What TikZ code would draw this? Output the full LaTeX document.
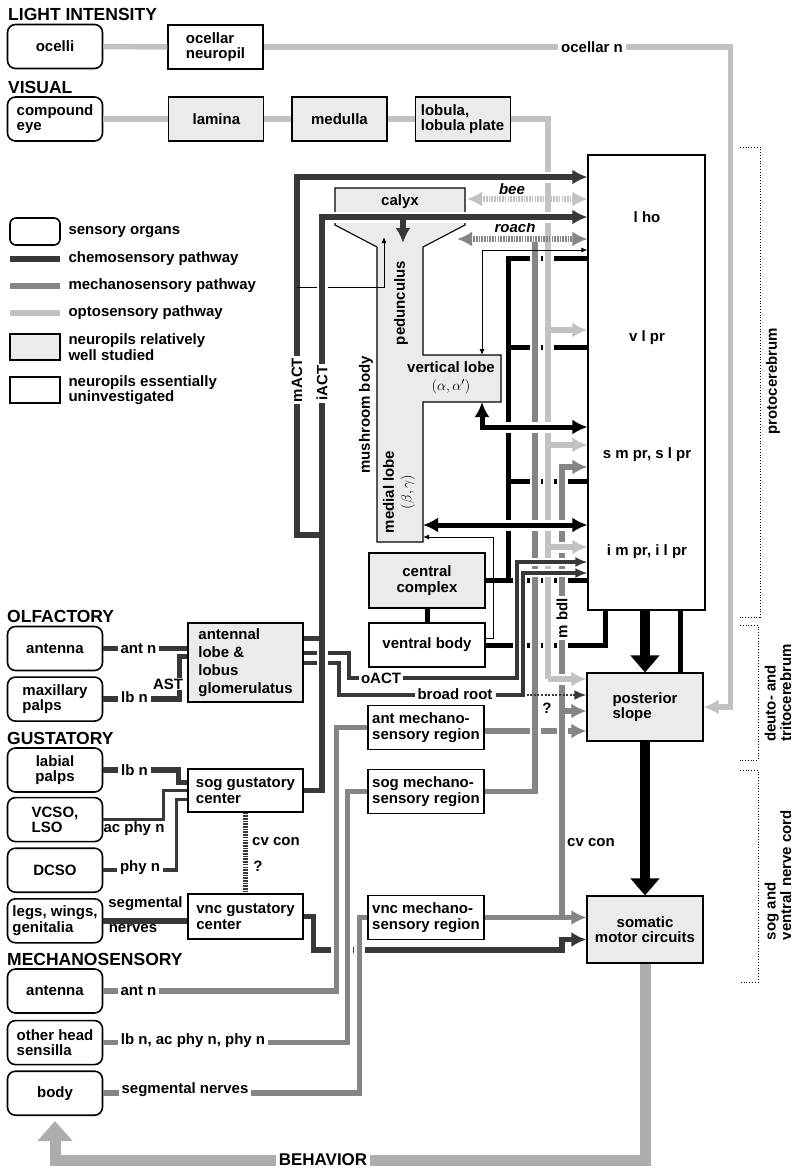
\documentclass[tikz,border=0pt]{standalone}
\usepackage{fontspec}
\setmainfont{Liberation Sans}
\usetikzlibrary{positioning, calc, arrows.meta}

\definecolor{chemc}{gray}{0.22}
\definecolor{mechc}{gray}{0.52}
\definecolor{optoc}{gray}{0.76}
\definecolor{wellc}{gray}{0.92}
\definecolor{behavc}{gray}{0.68}

\begin{document}
\begin{tikzpicture}[
  x=1pt, y=-1pt,
  font=\fontsize{15}{15.5}\selectfont\bfseries,
  >=Latex,
  organ/.style={rectangle, draw, rounded corners=8pt, line width=1.6pt, minimum width=95pt, minimum height=44pt, align=left, inner sep=2pt},
  npil/.style={rectangle, draw, line width=1.1pt, minimum width=95pt, minimum height=44pt, align=left, inner sep=2pt, fill=white},
  well/.style={fill=wellc},
  head/.style={anchor=west, inner sep=0pt, font=\fontsize{17.5}{18}\selectfont\bfseries},
  lbl/.style={fill=white, inner sep=3pt},
  chem/.style={draw=chemc, line width=5.5pt},
  mech/.style={draw=mechc, line width=5.5pt},
  opto/.style={draw=optoc, line width=5.5pt},
  blk/.style={draw=black, line width=5pt},
  thinln/.style={draw=black, line width=1pt},
  arr/.style={-{Latex[length=15pt,width=15pt]}},
  sarr/.style={-{Latex[length=12pt,width=10pt]}},
  dblarr/.style={{Latex[length=15pt,width=15pt]}-{Latex[length=15pt,width=15pt]}},
  tinyarr/.style={-{Latex[length=6pt,width=5pt]}},
  tinydbl/.style={{Latex[length=6pt,width=5pt]}-{Latex[length=6pt,width=5pt]}},
  bigarr/.style={draw=black, line width=10pt, -{Triangle[length=17pt,width=28pt]}},
  hatch/.style={dash pattern=on 1.6pt off 1.1pt},
  halo/.style={preaction={draw=white, -, line width=#1, shorten <=4pt, shorten >=4pt}},
  halo/.default=11pt,
  haloa/.style={preaction={draw=white, -, line width=#1, shorten <=4pt, shorten >=12pt}},
  haloa/.default=11pt,
  brk/.style={draw=black, line width=0.8pt, dotted}
]
\useasboundingbox (0,0) rectangle (800,1171);

%------------------------------------------------
% Headings and sensory organs
%------------------------------------------------
\node[head] (hLight) at (8,14) {LIGHT INTENSITY};
\node[head] (hVisual) at (8,87) {VISUAL};
\node[head] (hOlf) at (7,616) {OLFACTORY};
\node[head] (hGust) at (7,738) {GUSTATORY};
\node[head] (hMech) at (7,959) {MECHANOSENSORY};

\node[organ, align=center] (ocelli) at (55,46.5) {ocelli};
\node[organ] (ceye) at (55,119) {compound\\eye};

\node[organ, align=center] (oant) at (55,648.5) {antenna};
\node[organ, below=5pt of oant] (mpalp) {maxillary\\palps};

\node[organ, align=center] (lpalp) at (55,770) {labial\\palps};
\node[organ, below=4pt of lpalp] (vcso) {VCSO,\\LSO};
\node[organ, align=center, below=5pt of vcso] (dcso) {DCSO};
\node[organ, below=5pt of dcso] (legs) {legs, wings,\\genitalia};

\node[organ, align=center] (mant) at (55,991) {antenna};
\node[organ, below=6pt of mant] (ohs) {other head\\sensilla};
\node[organ, align=center, below=5pt of ohs] (mbody) {body};

%------------------------------------------------
% Neuropils
%------------------------------------------------
\node[npil] (ocn) at (215.5,47) {ocellar\\neuropil};
\node[npil, well, right=65pt of ceye] (lamina) {lamina};
\node[npil, well, right=27pt of lamina] (medulla) {medulla};
\node[npil, well, right=27pt of medulla] (lob) {lobula,\\lobula plate};

\node[npil, minimum width=117pt, minimum height=455pt] (bigbox) at (646.5,382.5) {};
\node (lho) at (647,217) {l ho};
\node (vlpr) at (647,338) {v l pr};
\node (smpr) at (647,455) {s m pr, s l pr};
\node (impr) at (647,552) {i m pr, i l pr};

\node[npil, well, minimum width=115pt, minimum height=79pt, font=\fontsize{15}{18}\selectfont\bfseries] (alobe) at (245.5,662.5) {antennal\\lobe \&\\lobus\\glomerulatus};
\node[npil, minimum width=115pt, minimum height=43pt] (sogg) at (245.5,790.5) {sog gustatory\\center};
\node[npil, minimum width=115pt, minimum height=45pt] (vncg) at (245.5,916.5) {vnc gustatory\\center};

\node[npil, minimum width=116pt] (antm) at (426,727.5) {ant mechano-\\sensory region};
\node[npil, minimum width=116pt] (sogm) at (426,791.5) {sog mechano-\\sensory region};
\node[npil, minimum width=116pt] (vncm) at (426,917.5) {vnc mechano-\\sensory region};

\node[npil, well, minimum width=116pt, minimum height=55pt, align=center] (cc) at (427,580.5) {central\\complex};
\node[npil, minimum width=116pt] (vb) at (427,645) {ventral body};

\node[npil, well, minimum width=116pt, minimum height=68pt] (ps) at (645,707) {posterior\\slope};
\node[npil, well, minimum width=116pt, minimum height=67pt, align=center] (smc) at (645,929.5) {somatic\\motor circuits};

% Mushroom body
\draw[line width=1.1pt, fill=wellc] (335,188) -- (465,188) -- (465,225) -- (423,247) -- (423,355) -- (501,355)
  -- (501,402) -- (423,402) -- (423,542) -- (377,542) -- (377,247) -- (335,225) -- cycle;
\coordinate (vlTop) at (482,355);
\coordinate (vlBot) at (482,402);
\coordinate (mlTip) at (423,525);
\coordinate (mlIn) at (423,537);
\coordinate (calIn) at (384,237);
\coordinate (calDn) at (403,243);
\coordinate (beeL) at (467,199);
\coordinate (roachL) at (457,239);

\node (calyx) at (400,202) {calyx};
\node[rotate=90] (ped) at (401,303) {pedunculus};
\node[rotate=90] (mbl) at (366,415) {mushroom body};
\node[align=center] (vlobe) at (451,378) {vertical lobe\\[2pt]{\mdseries$(\alpha, \alpha')$}};
\node[rotate=90, align=center] (mlobe) at (399,492) {medial lobe\\[2pt]{\mdseries$(\beta, \gamma)$}};

%------------------------------------------------
% Optic pathway
%------------------------------------------------
\draw[opto] (ocelli.east) -- (ocn.west);
\draw[opto] (ceye.east) -- (lamina.west);
\draw[opto] (lamina.east) -- (medulla.west);
\draw[opto] (medulla.east) -- (lob.west);

\coordinate (ocKnee) at ($(ps.east)+(27,0)$);
\draw[opto, arr] (ocn.east) -| (ocKnee) -- (ps.east);
\node[lbl] (ocnl) at (592,47) {ocellar n};

%------------------------------------------------
% Central black tracts
%------------------------------------------------
\coordinate (fTop) at (508,258);
\draw[thinln, tinyarr] ($(vb.east)+(0,-7)$) -| (493,537) -- (mlIn);
\draw[blk] (cc.south) -- (vb.north);
\draw[blk] (cc.east) -- (cc.east -| bigbox.west);
\draw[blk] (cc.east -| fTop) -- (fTop) -- (fTop -| bigbox.west);
\draw[blk] (fTop |- 0,347) -- (bigbox.west |- 0,347);
\draw[blk] (fTop |- 0,481) -- (bigbox.west |- 0,481);
\draw[blk] (vb.east) -| ($(bigbox.south west)+(18,0)$);

% mechano input to posterior slope
\draw[mech, arr] (antm.east |- 0,731) -- (ps.west |- 0,731);

% gray trunks
\coordinate (optoKnee) at (548,679);
\draw[opto, halo] (lob.east) -| (optoKnee);
\coordinate (mechTop) at (535,242);
\draw[mech, halo] (sogm.east) -| (mechTop);
\coordinate (cvBot) at (562,917.5);
\draw[mech, haloa, arr] (cvBot) |- (bigbox.west |- 0,467);
\draw[mech, arr] (vncm.east) -- (smc.west |- vncm.east);
\draw[mech, arr] (cvBot |- 0,711) -- (ps.west |- 0,711);

\draw[opto, arr] (optoKnee |- 0,330) -- (bigbox.west |- 0,330);
\draw[opto, arr] (optoKnee |- 0,445) -- (bigbox.west |- 0,445);
\draw[opto, haloa, arr] (optoKnee |- 0,547) -- (bigbox.west |- 0,547);
\draw[opto, haloa, arr] (optoKnee) -- (ps.west |- optoKnee);

% bee and roach
\draw[opto, hatch, dblarr] (beeL) -- (bigbox.west |- beeL);
\draw[mech, hatch, dblarr] (roachL) -- (bigbox.west |- roachL);
\node (beel) at (512,189) {\itshape bee};
\node (roachl) at (515,227) {\itshape roach};

%------------------------------------------------
% Olfactory and gustatory tracts
%------------------------------------------------
\draw[chem] (oant.east) -- (alobe.west |- oant.east);
\draw[chem] (mpalp.east) -- ++(76,0) |- ($(alobe.west)+(0,-6)$);
\node[lbl] (oantl) at (138.5,648.5) {ant n};
\node[lbl] (mpalpl) at (134.5,697.5) {lb n};
\node[lbl, inner sep=1pt] (astl) at (168,684) {AST};

\coordinate (oactKnee) at (517,678);
\coordinate (brKnee) at (523,695);
\coordinate (alOut1) at ($(alobe.east)+(0,-24)$);
\coordinate (alOut2) at ($(alobe.east)+(0,-10)$);
\draw[chem, line width=4pt, haloa=8pt, sarr] (alOut2) -- ++(45,0) |- (oactKnee) |- (bigbox.west |- 0,562);
\draw[chem, line width=4pt, haloa=8pt, sarr] (alobe.east) -- ++(35,0) |- (brKnee) |- (bigbox.west |- 0,573);
\draw[chem, line width=2.5pt, dash pattern=on 2pt off 1.6pt, sarr] (brKnee) -- (ps.west |- brKnee);
\node[lbl, inner sep=2pt] (oactl) at (381,678) {oACT};
\node[lbl] (brl) at (455,694) {broad root};
\node (brq) at (547,708) {?};

% iACT and mACT
\coordinate (iactTop) at (322,217);
\draw[chem, haloa, arr] (sogg.east) -| (iactTop) -- (bigbox.west |- iactTop);
\draw[chem, arr] (iactTop -| calDn) -- (calDn);
\coordinate (mactTop) at (297,177);
\draw[chem, haloa, arr] (iactTop |- 0,535) -| (mactTop) -- (bigbox.west |- mactTop);
\draw[thinln, tinyarr] (mactTop |- 0,287) -| (calIn);
\draw[chem, halo] (iactTop |- 0,306) -- (iactTop |- 0,266);
\draw[chem] (alOut1) -- (alOut1 -| iactTop);
\node[lbl, rotate=90, inner sep=2pt] (mactl) at (297,380) {mACT};
\node[lbl, rotate=90, inner sep=2pt] (iactl) at (322,383) {iACT};

% gustatory inputs
\draw[chem] (lpalp.east) -- ++(75,0) |- ($(sogg.west)+(0,-8)$);
\draw[chem, line width=3.5pt] (vcso.east) -- ++(60,0) |- (sogg.west);
\draw[chem, line width=3.5pt] (dcso.east) -- ++(73,0) |- ($(sogg.west)+(0,9)$);
\draw[chem] (legs.east) -- (vncg.west |- legs.east);
\draw[chem, hatch] (sogg.south) -- (vncg.north);
\node[lbl] (lpalpl) at (134.5,770) {lb n};
\node (vcsol) at (134,829) {ac phy n};
\node[lbl] (dcsol) at (140,868) {phy n};
\node (legsl1) at (145.5,904) {segmental};
\node (legsl2) at (133,929) {nerves};
\node (cvcong) at (276,842) {cv con};
\node (cvq) at (258,866) {?};

\coordinate (vncKnee) at (562,950);
\draw[chem, arr] (vncg.east) -- ++(10,0) |- (vncKnee) |- ($(smc.west)+(0,10)$);

%------------------------------------------------
% Mechanosensory tracts
%------------------------------------------------
\draw[mech, halo] (mant.east) -| ($(antm.west)+(-31,0)$) -- (antm.west);
\draw[mech, halo] (ohs.east) -| ($(sogm.west)+(-20,0)$) -- (sogm.west);
\draw[mech, preaction={draw=white, -, line width=11pt, shorten <=4pt, shorten >=1pt}] (mbody.east) -| ($(vncm.west)+(-8,0)$) -- (vncm.west);
\node[lbl] (mantl) at (138.5,991) {ant n};
\node[lbl] (ohsl) at (193,1041) {lb n, ac phy n, phy n};
\node[lbl] (mbodyl) at (185,1090) {segmental nerves};
\node[lbl, rotate=90, inner sep=2pt] (mbdl) at (562,618) {m bdl};
\node (cvconl) at (591,843) {cv con};

%------------------------------------------------
% Mushroom body lobes and output
%------------------------------------------------
\draw[blk, haloa, dblarr] (vlBot) |- (bigbox.west |- 0,427);
\draw[blk, haloa, dblarr] (mlTip) -- (bigbox.west |- mlTip);
\draw[thinln, tinydbl] (vlTop) |- (bigbox.west |- 0,250);

\draw[bigarr] (ps.north |- bigbox.south) -- (ps.north);
\coordinate (bbR) at ($(bigbox.south east)+(-25,0)$);
\draw[blk] (bbR) -- (bbR |- ps.north);
\draw[bigarr] (ps.south) -- (smc.north);

% behavior loop
\draw[draw=behavc, line width=11pt, -{Triangle[length=20pt,width=34pt]}, shorten >=5pt]
  (smc.south) |- (mbody.south |- 0,1160) -- (mbody.south);
\node[lbl, font=\fontsize{17}{18}\selectfont\bfseries] (behl) at (323,1160) {BEHAVIOR};

%------------------------------------------------
% Legend
%------------------------------------------------
\node[organ, minimum width=50pt, minimum height=27pt, rounded corners=6pt] (lgOrg) at (35,231.5) {};
\node[anchor=west] (lgOrgT) at (65,232) {sensory organs};
\node[anchor=west] (lgChemT) at (65,259) {chemosensory pathway};
\node[anchor=west] (lgMechT) at (65,286) {mechanosensory pathway};
\node[anchor=west] (lgOptoT) at (65,313) {optosensory pathway};
\draw[chem] ($(lgChemT.west)+(-55,0)$) -- ++(50,0);
\draw[mech] ($(lgMechT.west)+(-55,0)$) -- ++(50,0);
\draw[opto] ($(lgOptoT.west)+(-55,0)$) -- ++(50,0);
\node[npil, well, minimum width=50pt, minimum height=26pt] (lgWell) at (35,347) {};
\node[anchor=west, align=left] (lgWellT) at (65,347) {neuropils relatively\\well studied};
\node[npil, minimum width=50pt, minimum height=26pt] (lgNone) at (35,390) {};
\node[anchor=west, align=left] (lgNoneT) at (65,390) {neuropils essentially\\uninvestigated};

%------------------------------------------------
% Brain regions
%------------------------------------------------
\draw[brk] (740,147) -| (760,617) -- (740,617);
\draw[brk] (740,625) -| (758,760) -- (740,760);
\draw[brk] (740,770) -| (758,982) -- (740,982);
\node[rotate=90] (proto) at (773,381) {protocerebrum};
\node[rotate=90, align=left] (deuto) at (778,693) {deuto- and\\tritocerebrum};
\node[rotate=90, align=left] (vnc) at (778,875) {sog and\\ventral nerve cord};

\end{tikzpicture}
\end{document}
